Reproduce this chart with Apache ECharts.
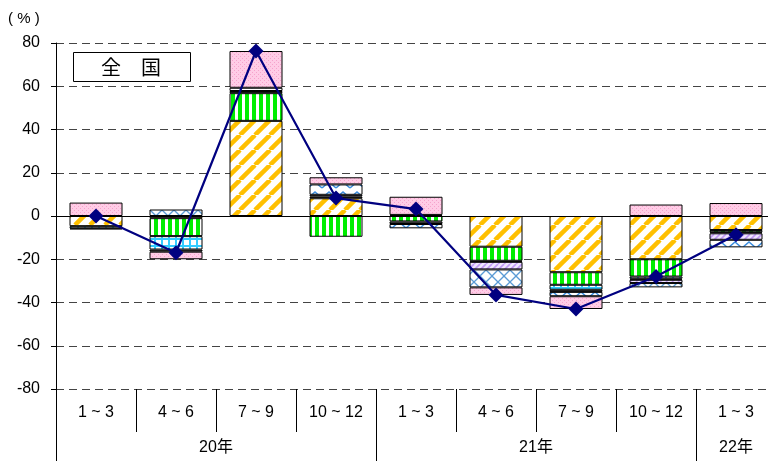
<!DOCTYPE html>
<html><head><meta charset="utf-8">
<script src="https://cdn.jsdelivr.net/npm/echarts@6/dist/echarts.min.js"></script>
<style>html,body{margin:0;padding:0;background:#fff}#c{width:768px;height:461px}</style>
</head><body><div id="c"></div>
<script>
const categories = ['1 ~ 3','4 ~ 6','7 ~ 9','10 ~ 12','1 ~ 3','4 ~ 6','7 ~ 9','10 ~ 12','1 ~ 3'];
const years = ['20年','21年','22年'];
const yearSpans = [4,4,1];
const yTicks = {min:-80, max:80, interval:20};
const seriesA = [-4.7,-1,44,8.2,0.5,-14.2,-26,-20,-6.5];
const seriesB = [null,-8.3,12.8,-9.6,-2.5,-6.5,-5.8,-8,-1];
const seriesC = [-1,-6.2,null,null,null,null,-2.3,-1,null];
const seriesG = [-0.5,-1,1,0.8,-1.2,-0.5,-1,-0.5,-0.5];
const seriesE = [null,null,null,0.8,null,-3.5,null,-1.5,-3];
const seriesD = [null,3,null,null,null,-8.3,null,-2,null];
const seriesF = [null,null,1.5,4.8,-2,null,-2,null,-3.5];
const seriesH = [6.2,-3.5,17,3.3,8.4,-3.5,-5.9,5.3,6];
const total = [0,-17,76.3,8.3,3.2,-36.5,-43,-28,-8.7];

function pat(w,h,draw){const c=document.createElement('canvas');c.width=w;c.height=h;const x=c.getContext('2d');x.fillStyle='#fff';x.fillRect(0,0,w,h);draw(x,w,h);return {image:c,repeat:'repeat'};}
const pYellow=pat(15,15,(x,w,h)=>{x.strokeStyle='#FFC000';x.lineWidth=4.5;for(const o of [-w,0,w]){x.beginPath();x.moveTo(o,h);x.lineTo(o+w,0);x.stroke();}});
const pGreen=pat(7,4,(x,w,h)=>{x.fillStyle='#00EE00';x.fillRect(0,0,4,h);});
const pCyan=pat(7,7,(x,w,h)=>{x.fillStyle='#33CCFF';x.fillRect(0,0,2,h);x.fillRect(0,0,w,2);});
const pX=pat(12,12,(x,w,h)=>{x.strokeStyle='#5B9BD5';x.lineWidth=1.3;for(const o of [-w,0,w]){x.beginPath();x.moveTo(o,h);x.lineTo(o+w,0);x.stroke();x.beginPath();x.moveTo(o,0);x.lineTo(o+w,h);x.stroke();}});
const pPurple=pat(6,6,(x,w,h)=>{x.fillStyle='#F0E6FF';x.fillRect(0,0,w,h);x.strokeStyle='#C09AF5';x.lineWidth=1.6;for(const o of [-w,0,w]){x.beginPath();x.moveTo(o,h);x.lineTo(o+w,0);x.stroke();}});
const pZig=pat(14,10,(x,w,h)=>{x.strokeStyle='#3C8DDE';x.lineWidth=1.6;x.beginPath();x.moveTo(0,8);x.lineTo(7,2);x.lineTo(14,8);x.stroke();});
const pPink=pat(4,4,(x,w,h)=>{x.fillStyle='#FFCCE6';x.fillRect(0,0,w,h);x.fillStyle='#F5A3CC';x.fillRect(0,0,1,1);x.fillRect(2,2,1,1);});

const font='Arial, "Liberation Sans", "Noto Sans CJK JP", sans-serif';
function bar(name,data,color){return {name,type:'bar',stack:'s',data,barWidth:53,xAxisIndex:0,
  itemStyle:{color,borderColor:'#000',borderWidth:1}};}

let acc=0; const yearCenters=[], yearBounds=[0];
yearSpans.forEach(s=>{yearCenters.push(acc+s/2);acc+=s;yearBounds.push(acc);});

const chart=echarts.init(document.getElementById('c'));
chart.setOption({
  animation:false,
  grid:{left:56,top:43,width:720,height:346,outerBoundsMode:'none'},
  title:{text:'全　国',left:73,top:52,padding:[5,30,5,28],borderColor:'#000',borderWidth:1,backgroundColor:'#fff',
    textStyle:{fontSize:20,fontWeight:'normal',color:'#000',fontFamily:'"Noto Sans CJK JP", sans-serif'}},
  graphic:[{type:'text',left:8,top:11,style:{text:'( % )',font:'15px '+font,fill:'#000'}}],
  xAxis:[
    {type:'category',data:categories,axisLine:{onZero:true,lineStyle:{color:'#000',width:1}},
     axisTick:{inside:true,length:6,interval:0,lineStyle:{color:'#000'}},axisLabel:{show:false},splitLine:{show:false}},
    {type:'category',data:categories,position:'bottom',axisLine:{show:false,onZero:false},
     axisTick:{show:true,length:43,interval:0,lineStyle:{color:'#000'}},
     axisLabel:{margin:16,fontSize:16,color:'#000',fontFamily:font,interval:0},splitLine:{show:false}},
    {type:'value',min:0,max:categories.length,position:'bottom',axisLine:{show:false,onZero:false},
     axisTick:{show:true,length:72,customValues:yearBounds,lineStyle:{color:'#000'}},
     axisLabel:{margin:51,fontSize:16,color:'#000',fontFamily:font,customValues:yearCenters,
       formatter:v=>{const i=yearCenters.indexOf(v);return i>=0?years[i]:'';}},splitLine:{show:false}}
  ],
  yAxis:{type:'value',min:yTicks.min,max:yTicks.max,interval:yTicks.interval,
    axisLine:{show:true,lineStyle:{color:'#000'}},axisTick:{show:true,length:5,lineStyle:{color:'#000'}},
    axisLabel:{margin:16,fontSize:16,color:'#000',fontFamily:font},
    splitLine:{show:true,lineStyle:{color:'#444',type:[8,5],width:1}}},
  series:[
    bar('A',seriesA,pYellow),bar('B',seriesB,pGreen),bar('C',seriesC,pCyan),bar('G',seriesG,'#555'),
    bar('E',seriesE,pPurple),bar('D',seriesD,pX),bar('F',seriesF,pZig),bar('H',seriesH,pPink),
    {name:'total',type:'line',data:total,z:10,symbol:'diamond',symbolSize:[15,15],
     lineStyle:{color:'#000080',width:2.2},itemStyle:{color:'#000080'}}
  ]
});
</script></body></html>
